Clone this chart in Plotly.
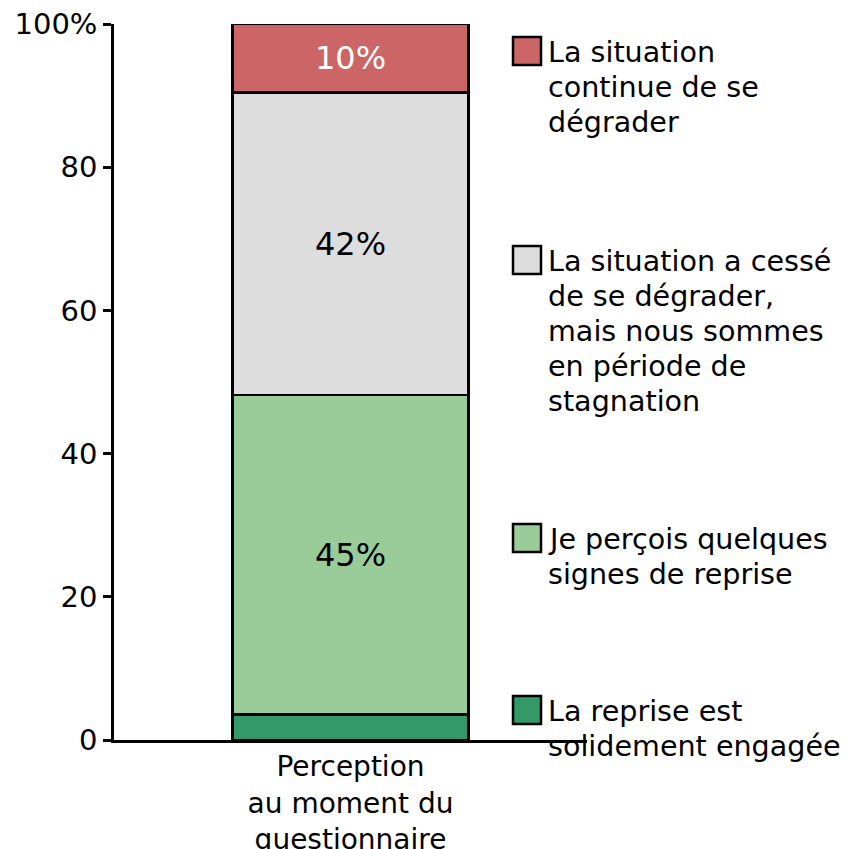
import plotly.graph_objects as go

category = ["Perception<br>au moment du<br>questionnaire"]
series_names = [
    "La reprise est<br>solidement engagée",
    "Je perçois quelques<br>signes de reprise",
    "La situation a cessé<br>de se dégrader,<br>mais nous sommes<br>en période de<br>stagnation",
    "La situation<br>continue de se<br>dégrader",
]
series_values = [3.6, 44.6, 42.2, 9.6]
series_labels = ["", "45%", "42%", "10%"]
series_colors = ["#339966", "#99CC99", "#DDDDDD", "#CC6666"]
label_colors = ["black", "black", "black", "white"]
y_tickvals = [0, 20, 40, 60, 80, 100]
y_ticktext = ["0", "20", "40", "60", "80", "100%"]

FONT = "DejaVu Sans"
W, H = 846, 849
ML, MR, MT, MB = 114, 259, 24, 109
PW = W - ML - MR
PH = H - MT - MB

# legend box centres, in pixels from the top of the figure
legend_box_px = [710, 538, 260, 51]
LINE_H = 35


def px_to_py(p):
    return (H - MB - p) / PH


def px_to_px_paper(p):
    return (p - ML) / PW


fig = go.Figure()
for name, val, lab, col, lc in zip(series_names, series_values, series_labels,
                                   series_colors, label_colors):
    fig.add_trace(go.Bar(
        x=category, y=[val], name=name, width=0.5,
        marker=dict(color=col, line=dict(color="black", width=2.7)),
        text=[lab], textposition="inside", insidetextanchor="middle",
        textangle=0, constraintext="none",
        textfont=dict(family=FONT, size=32, color=lc),
        hoverinfo="skip", showlegend=False,
    ))

BOX = 28
box_x0 = px_to_px_paper(513)
box_x1 = px_to_px_paper(513 + BOX)
text_x = px_to_px_paper(546)
for name, col, cpx in zip(series_names, series_colors, legend_box_px):
    fig.add_shape(type="rect", xref="paper", yref="paper",
                  x0=box_x0, x1=box_x1,
                  y0=px_to_py(cpx + BOX / 2), y1=px_to_py(cpx - BOX / 2),
                  fillcolor=col, line=dict(color="black", width=2.5))
    for i, line in enumerate(name.split("<br>")):
        fig.add_annotation(xref="paper", yref="paper", x=text_x,
                           y=px_to_py(cpx + 1 + i * LINE_H),
                           xanchor="left", yanchor="middle", align="left",
                           text=line, showarrow=False,
                           font=dict(family=FONT, size=28.6, color="black"))

fig.update_layout(
    width=W, height=H,
    margin=dict(l=ML, r=MR, t=MT, b=MB, pad=0, autoexpand=False),
    barmode="stack",
    plot_bgcolor="white", paper_bgcolor="white",
    font=dict(family=FONT, size=29, color="black"),
    xaxis=dict(range=[-0.5, 0.5], showline=True, linecolor="black", linewidth=2.5,
               ticks="", showgrid=False, zeroline=False, automargin=False,
               tickfont=dict(family=FONT, size=28)),
    yaxis=dict(range=[0, 100], tickvals=y_tickvals, ticktext=y_ticktext,
               showline=True, linecolor="black", linewidth=2.5,
               ticks="outside", ticklen=8, tickwidth=2.5, tickcolor="black",
               showgrid=False, zeroline=False, automargin=False,
               tickfont=dict(family=FONT, size=29)),
)

fig.write_html("out.html", config={"displayModeBar": False},
               post_script="document.body.style.margin='0';document.body.style.overflow='hidden';")
